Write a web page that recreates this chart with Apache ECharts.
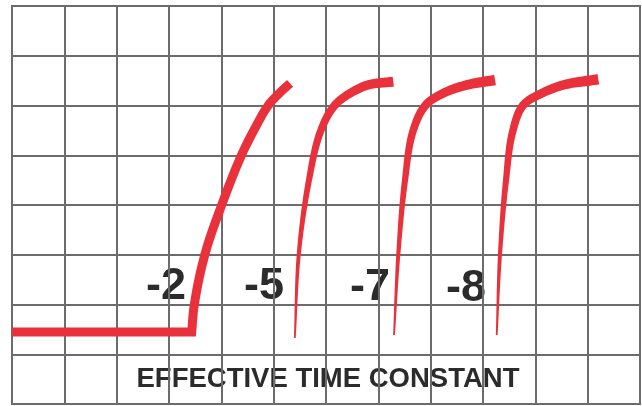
<!DOCTYPE html>
<html>
<head>
<meta charset="utf-8">
<script src="https://cdn.jsdelivr.net/npm/echarts@6/dist/echarts.min.js"></script>
<style>
  html, body { margin: 0; padding: 0; background: #fff; }
  #chart { width: 642px; height: 406px; }
</style>
</head>
<body>
<div id="chart"></div>
<script>
// response curves (grid units: 12 columns x 8 rows)
const curve2X = [0, 3.434, 3.478, 3.688, 4.007, 4.395, 4.625, 4.902, 5.112, 5.313];
const curve2Y = [1.447, 1.447, 1.956, 3.015, 4.0, 5.025, 5.508, 6.010, 6.251, 6.445];

const curve5X = [5.404, 5.480, 5.675, 5.905, 6.172, 6.459, 6.803, 7.286];
const curve5Y = [1.327, 3.015, 4.503, 5.508, 6.010, 6.245, 6.412, 6.479];

const curve7X = [7.300, 7.382, 7.510, 7.669, 7.906, 8.237, 8.689, 9.230];
const curve7Y = [1.387, 3.015, 4.503, 5.508, 6.010, 6.245, 6.412, 6.513];

const curve8X = [9.262, 9.325, 9.440, 9.574, 9.771, 10.122, 10.535, 11.204];
const curve8Y = [1.387, 3.015, 4.503, 5.508, 6.010, 6.245, 6.412, 6.527];

const timeConstants = ['-2', '-5', '-7', '-8'];
const axisTitle = 'EFFECTIVE TIME CONSTANT';

const red = '#e8313a';
const ink = '#2b2b2b';

const chart = echarts.init(document.getElementById('chart'));

function norm(x, y) {
  const l = Math.sqrt(x * x + y * y) || 1;
  return [x / l, y / l];
}

// smooth the pixel points (hermite, chord scaled), keep sharp corners sharp
function smoothPts(pts, steps) {
  const n = pts.length;
  const segDir = [];
  for (let i = 0; i < n - 1; i++) segDir.push(norm(pts[i + 1][0] - pts[i][0], pts[i + 1][1] - pts[i][1]));
  const tIn = [], tOut = [];
  for (let i = 0; i < n; i++) {
    if (i === 0) { tOut.push(segDir[0]); tIn.push(segDir[0]); continue; }
    if (i === n - 1) { tIn.push(segDir[n - 2]); tOut.push(segDir[n - 2]); continue; }
    const a = segDir[i - 1], b = segDir[i];
    if (a[0] * b[0] + a[1] * b[1] < 0.5) { tIn.push(a); tOut.push(b); continue; }
    const t = norm(a[0] + b[0], a[1] + b[1]);
    tIn.push(t); tOut.push(t);
  }
  const out = [];
  for (let i = 0; i < n - 1; i++) {
    const L = Math.hypot(pts[i + 1][0] - pts[i][0], pts[i + 1][1] - pts[i][1]);
    const m0 = [tOut[i][0] * L, tOut[i][1] * L];
    const m1 = [tIn[i + 1][0] * L, tIn[i + 1][1] * L];
    for (let s = 0; s < steps; s++) {
      const t = s / steps, t2 = t * t, t3 = t2 * t;
      const h00 = 2 * t3 - 3 * t2 + 1, h10 = t3 - 2 * t2 + t, h01 = -2 * t3 + 3 * t2, h11 = t3 - t2;
      out.push([
        h00 * pts[i][0] + h10 * m0[0] + h01 * pts[i + 1][0] + h11 * m1[0],
        h00 * pts[i][1] + h10 * m0[1] + h01 * pts[i + 1][1] + h11 * m1[1]
      ]);
    }
  }
  out.push(pts[n - 1]);
  return out;
}

// a stroke whose width grows from w0 to w1 along its length
function tube(xs, ys, w0, w1) {
  return function (params, api) {
    const pts = smoothPts(xs.map(function (x, i) { return api.coord([x, ys[i]]); }), 16);
    const n = pts.length;
    const len = [0];
    for (let i = 1; i < n; i++) {
      len.push(len[i - 1] + Math.hypot(pts[i][0] - pts[i - 1][0], pts[i][1] - pts[i - 1][1]));
    }
    const total = len[n - 1];
    const left = [], right = [];
    for (let i = 0; i < n; i++) {
      const p = pts[i];
      const a = i > 0 ? norm(p[0] - pts[i - 1][0], p[1] - pts[i - 1][1]) : norm(pts[1][0] - p[0], pts[1][1] - p[1]);
      const b = i < n - 1 ? norm(pts[i + 1][0] - p[0], pts[i + 1][1] - p[1]) : a;
      const t = norm(a[0] + b[0], a[1] + b[1]);
      const nx = -t[1], ny = t[0];
      const k = Math.max(0.3, nx * -a[1] + ny * a[0]);
      const w = (w0 + (w1 - w0) * len[i] / total) / 2 / k;
      left.push([p[0] + nx * w, p[1] + ny * w]);
      right.unshift([p[0] - nx * w, p[1] - ny * w]);
    }
    return {
      type: 'polygon',
      shape: { points: left.concat(right) },
      style: { fill: red }
    };
  };
}

function curveSeries(xs, ys, w0, w1) {
  return {
    type: 'custom',
    renderItem: tube(xs, ys, w0, w1),
    data: [[xs[0], ys[0]]],
    clip: false,
    silent: true,
    z: 3
  };
}

const labelPos = [[166, 287], [264, 287], [370, 288], [466, 289]];

const option = {
  backgroundColor: '#ffffff',
  animation: false,
  grid: {
    left: 12, top: 6, right: 2, bottom: 2,
    show: true,
    borderColor: '#6a6a6a',
    borderWidth: 2
  },
  xAxis: {
    type: 'value', min: 0, max: 12, interval: 1,
    axisLine: { show: false }, axisTick: { show: false }, axisLabel: { show: false },
    splitLine: { show: true, lineStyle: { color: '#6c6c6c', width: 2 } }
  },
  yAxis: {
    type: 'value', min: 0, max: 8, interval: 1,
    axisLine: { show: false }, axisTick: { show: false }, axisLabel: { show: false },
    splitLine: { show: true, lineStyle: { color: '#6c6c6c', width: 2 } }
  },
  graphic: timeConstants.map(function (t, i) {
    return {
      type: 'text',
      x: labelPos[i][0], y: labelPos[i][1],
      style: {
        text: t,
        fill: ink,
        font: 'bold 45px "Liberation Sans", Arial, sans-serif',
        textAlign: 'center',
        textVerticalAlign: 'middle'
      }
    };
  }).concat([{
    type: 'text',
    x: 328, y: 379,
    style: {
      text: axisTitle,
      fill: ink,
      font: 'bold 27.5px "Liberation Sans", Arial, sans-serif',
      textAlign: 'center',
      textVerticalAlign: 'middle'
    }
  }]),
  series: [
    curveSeries(curve2X, curve2Y, 9, 9),
    curveSeries(curve5X, curve5Y, 1.8, 10),
    curveSeries(curve7X, curve7Y, 1.8, 10.5),
    curveSeries(curve8X, curve8Y, 1.8, 10.5)
  ]
};

chart.setOption(option);
</script>
</body>
</html>
